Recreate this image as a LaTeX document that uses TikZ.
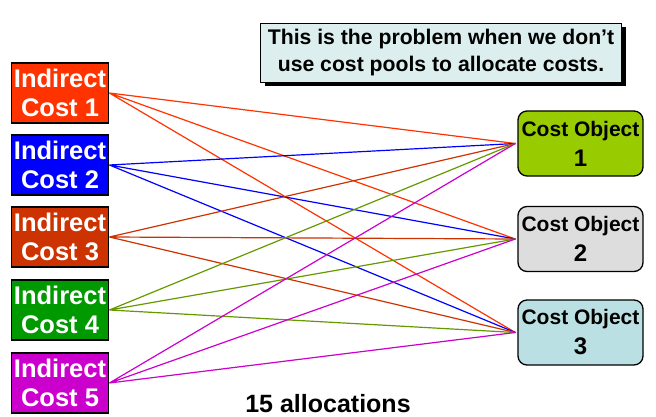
\documentclass[tikz,border=0pt]{standalone}
\usepackage{fontspec}
\setmainfont{Liberation Sans}
\usetikzlibrary{shadows}
\definecolor{icone}{HTML}{FF3300}
\definecolor{ictwo}{HTML}{0000FF}
\definecolor{icthree}{HTML}{CC3300}
\definecolor{icfour}{HTML}{009900}
\definecolor{icfourline}{HTML}{669900}
\definecolor{icfive}{HTML}{CC00CC}
\definecolor{coone}{HTML}{99CC00}
\definecolor{cotwo}{HTML}{DDDDDD}
\definecolor{cothree}{HTML}{BBE0E3}
\definecolor{notefill}{HTML}{DDEEEE}
\tikzset{
	indirect/.style={
			draw=black, line width=1.8pt, minimum width=97pt, minimum height=60pt,
			inner sep=0pt, align=center, text=white,
			font=\fontsize{25.5}{29}\selectfont\bfseries
		},
	costobj/.style={
			draw=black, line width=1.3pt, rounded corners=9pt, minimum width=125pt,
			minimum height=65pt, inner sep=0pt, align=center,
			font=\fontsize{21}{30}\selectfont\bfseries
		}
}

\begin{document}
\begin{tikzpicture}[x=1pt, y=-1pt]
			\useasboundingbox (0, 0) rectangle (656, 417);

			\node[indirect, fill=icone]	(ic1) at (60, 93) {Indirect\\Cost 1};
			\node[indirect, fill=ictwo]	(ic2) at (60, 165) {Indirect\\Cost 2};
			\node[indirect, fill=icthree]	(ic3) at (60, 237) {Indirect\\Cost 3};
			\node[indirect, fill=icfour]	(ic4) at (60, 310) {Indirect\\Cost 4};
			\node[indirect, fill=icfive]	(ic5) at (60, 383) {Indirect\\Cost 5};

			\node[costobj, fill=coone]	(co1) at (580.5, 143.5) {Cost Object\\{\fontsize{24}{30}\selectfont 1}};
			\node[costobj, fill=cotwo]	(co2) at (580.5, 239) {Cost Object\\{\fontsize{24}{30}\selectfont 2}};
			\node[costobj, fill=cothree]	(co3) at (580.5, 332.5) {Cost Object\\{\fontsize{24}{30}\selectfont 3}};

			\coordinate (end1) at ([xshift=-2pt]co1.west);
			\coordinate (end2) at ([xshift=-2pt]co2.west);
			\coordinate (end3) at ([xshift=-2pt]co3.west);

			\draw[icone, line width=1.2pt]		(ic1.east) to (end1)
								(ic1.east) to (end2)
								(ic1.east) to (end3);
			\draw[ictwo, line width=1.2pt]		(ic2.east) to (end1)
								(ic2.east) to (end2)
								(ic2.east) to (end3);
			\draw[icthree, line width=1.2pt]	(ic3.east) to (end1)
								(ic3.east) to (end2)
								(ic3.east) to (end3);
			\draw[icfourline, line width=1.2pt]	(ic4.east) to (end1)
								(ic4.east) to (end2)
								(ic4.east) to (end3);
			\draw[icfive, line width=1.2pt]		(ic5.east) to (end1)
								(ic5.east) to (end2)
								(ic5.east) to (end3);

			\node[draw=black, line width=1.3pt, fill=notefill, minimum width=361pt, minimum height=59pt,
				align=center, font=\fontsize{21.2}{27}\selectfont\bfseries,
				drop shadow={shadow xshift=4pt, shadow yshift=-4pt, fill=black, opacity=1}]
				(note) at (441, 53) {This is the problem when we don’t\\use cost pools to allocate costs.};

			\node[font=\fontsize{25}{27}\selectfont\bfseries]	(total) at (328, 404) {15 allocations};
		\end{tikzpicture}
\end{document}
